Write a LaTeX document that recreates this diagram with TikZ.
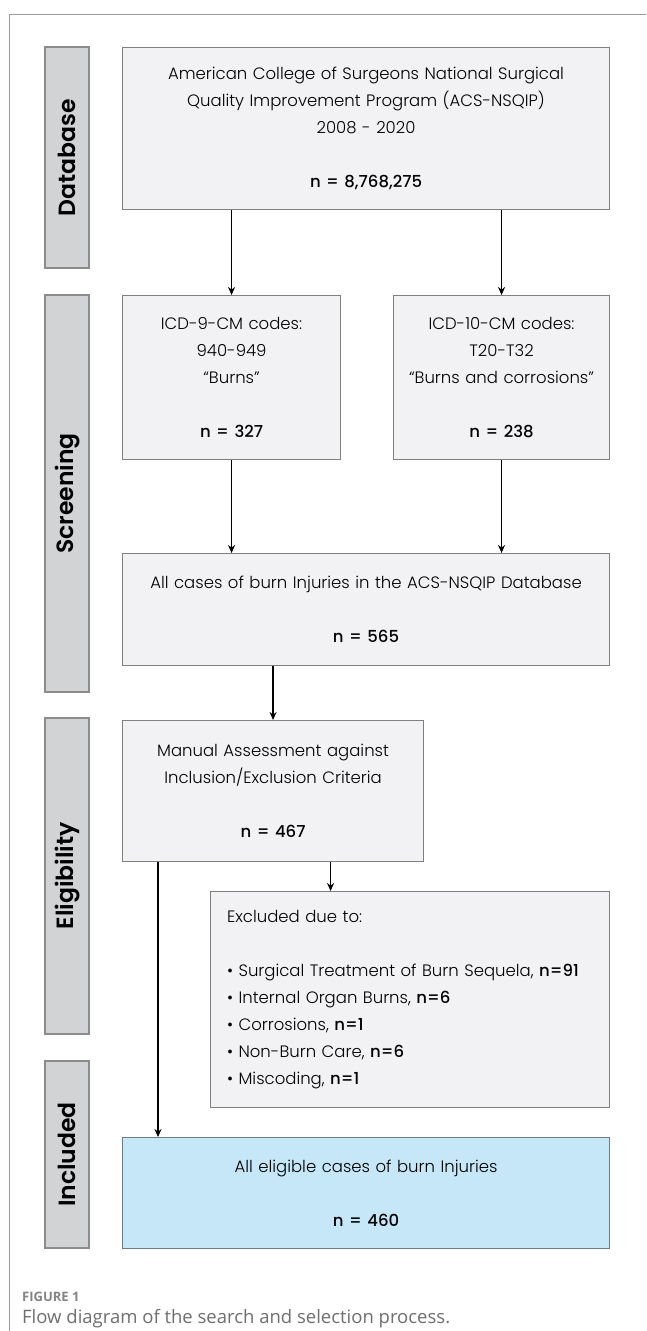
\documentclass[tikz,border=0pt]{standalone}
\usepackage{fontspec}
\setmainfont{Poppins}[UprightFont={* Light}, BoldFont={* Medium}]
\newfontfamily\stagefont{Poppins SemiBold}
\newfontfamily\capfont{Open Sans}
\usetikzlibrary{arrows.meta}
\definecolor{boxfill}{HTML}{F2F2F4}
\definecolor{boxline}{HTML}{808080}
\definecolor{stagefill}{HTML}{D1D3D5}
\definecolor{stageline}{HTML}{8C8C8C}
\definecolor{finalfill}{HTML}{C6E7F8}
\definecolor{finalline}{HTML}{6E7C88}
\definecolor{framegris}{HTML}{9A9A9A}
\definecolor{captiongris}{HTML}{6E6E6E}

\begin{document}
\begin{tikzpicture}[x=1pt, y=-1pt]
		% STYLES
		\tikzstyle{boite} = [draw=boxline, fill=boxfill, line width=1.1pt, inner sep=0pt, anchor=north west, align=center, font=\fontsize{16.5}{27}\selectfont]
		\tikzstyle{etape} = [draw=stageline, fill=stagefill, line width=1.1pt, inner sep=0pt, rotate=90, minimum height=44pt, font=\stagefont\fontsize{23.5}{26}\selectfont]
		\tikzstyle{fleche} = [line width=1.2pt, -{Stealth[length=8pt, width=7pt]}, draw=black]

		% CADRE
		\useasboundingbox (0, 0) rectangle (646, 1331);
		\draw[framegris, line width=1pt] (646, 14) -- (9, 14) -- (9, 1331);

		% ETAPES
		\node[etape, minimum width=221pt] (database) at (67, 157.5) {Database};
		\node[etape, minimum width=397pt] (screening) at (67, 493.5) {Screening};
		\node[etape, minimum width=316pt] (eligibility) at (67, 876) {Eligibility};
		\node[etape, minimum width=187pt] (included) at (67, 1154.5) {Included};

		% BOITES
		\node[boite, minimum width=487pt, minimum height=162pt, text width=470pt] (db) at (122, 47)
			{American College of Surgeons National Surgical\\
			 Quality Improvement Program (ACS-NSQIP)\\
			 2008 - 2020\\[27pt]
			 \textbf{n = 8,768,275}};
		\node[boite, minimum width=218pt, minimum height=164pt, text width=205pt] (icdnine) at (122, 295)
			{ICD-9-CM codes:\\ 940-949\\ “Burns”\\[27pt] \textbf{n = 327}};
		\node[boite, minimum width=216pt, minimum height=164pt, text width=210pt] (icdten) at (393, 295)
			{ICD-10-CM codes:\\ T20-T32\\ “Burns and corrosions”\\[27pt] \textbf{n = 238}};
		\node[boite, minimum width=487pt, minimum height=112pt, text width=475pt] (allcases) at (122, 553)
			{All cases of burn Injuries in the ACS-NSQIP Database\\[27pt] \textbf{n = 565}};
		\node[boite, minimum width=301pt, minimum height=141pt, text width=285pt] (manual) at (122, 720)
			{Manual Assessment against\\ Inclusion/Exclusion Criteria\\[27pt] \textbf{n = 467}};
		\node[boite, minimum width=399pt, minimum height=216pt, text width=366pt, align=left] (excl) at (210, 891)
			{Excluded due to:\\[27pt]
			 • Surgical Treatment of Burn Sequela, \textbf{n=91}\\
			 • Internal Organ Burns, \textbf{n=6}\\
			 • Corrosions, \textbf{n=1}\\
			 • Non-Burn Care, \textbf{n=6}\\
			 • Miscoding, \textbf{n=1}};
		\node[boite, draw=finalline, fill=finalfill, minimum width=487pt, minimum height=111pt, text width=470pt] (final) at (122, 1137)
			{All eligible cases of burn Injuries\\[27pt] \textbf{n = 460}};

		% FLECHES
		\draw[fleche] (db.south -| icdnine.north) -- (icdnine.north);
		\draw[fleche] (db.south -| icdten.north) -- (icdten.north);
		\draw[fleche] (icdnine.south) -- (icdnine.south |- allcases.north);
		\draw[fleche] (icdten.south) -- (icdten.south |- allcases.north);
		\draw[fleche] (allcases.south -| manual.north) -- (manual.north);
		\draw[fleche] ([xshift=57.5pt]manual.south) -- ([xshift=57.5pt]manual.south |- excl.north);
		\draw[fleche] ([xshift=36pt]manual.south west) -- ([xshift=36pt]manual.south west |- final.north);

		% LEGENDE
		\node[anchor=base west, inner sep=0pt, text=captiongris!85, font=\capfont\fontsize{13}{15}\selectfont\bfseries] (figlabel) at (22, 1301) {FIGURE 1};
		\node[anchor=base west, inner sep=0pt, text=captiongris, font=\capfont\fontsize{18.5}{22}\selectfont] (figcaption) at (22, 1323) {Flow diagram of the search and selection process.};
\end{tikzpicture}
\end{document}
